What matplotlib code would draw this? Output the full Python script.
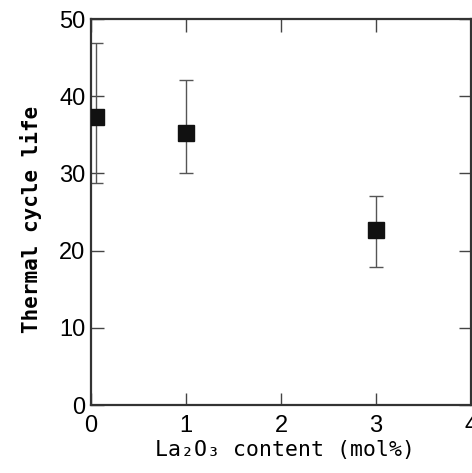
import matplotlib
matplotlib.use("Agg")
import matplotlib.pyplot as plt

# Data
la2o3_content = [0.05, 1.0, 3.0]
cycle_life = [37.3, 35.2, 22.7]
err_upper = [46.9, 42.1, 27.1]
err_lower = [28.7, 30.0, 17.9]

x_ticks = [0, 1, 2, 3, 4]
y_ticks = [0, 10, 20, 30, 40, 50]

yerr = [[c - lo for c, lo in zip(cycle_life, err_lower)],
        [hi - c for c, hi in zip(cycle_life, err_upper)]]

fig = plt.figure(figsize=(4.72, 4.73), dpi=100)
ax = fig.add_axes([91/472, 1 - 405/473, (471 - 91)/472, (405 - 19)/473])

ax.errorbar(la2o3_content, cycle_life, yerr=yerr, fmt='none', ecolor='#555555',
            elinewidth=1.0, capsize=5, capthick=1.0, zorder=2)
ax.plot(la2o3_content, cycle_life, 's', color='#111111', markersize=11.5, zorder=3)

ax.set_xlim(0, 4)
ax.set_ylim(0, 50)
ax.set_xticks(x_ticks)
ax.set_yticks(y_ticks)
ax.set_xticklabels([str(v) for v in x_ticks], fontsize=17, family='Liberation Sans')
ax.set_yticklabels([str(v) for v in y_ticks], fontsize=17, family='Liberation Sans')
ax.tick_params(axis='both', direction='in', length=9, width=1.0, color='#444444',
               top=True, right=True)
ax.tick_params(axis='x', pad=7)
ax.tick_params(axis='y', pad=4)

for s in ax.spines.values():
    s.set_linewidth(1.6)
    s.set_color('#333333')

ax.set_xlabel('La₂O₃ content (mol%)', fontsize=15.5, family='DejaVu Sans Mono')
ax.set_ylabel('Thermal cycle life', fontsize=15, family='DejaVu Sans Mono',
              fontweight='bold')
ax.xaxis.set_label_coords(0.51, -0.09)
ax.yaxis.set_label_coords(-0.13, 0.48)

fig.savefig('out.png', dpi=100)
